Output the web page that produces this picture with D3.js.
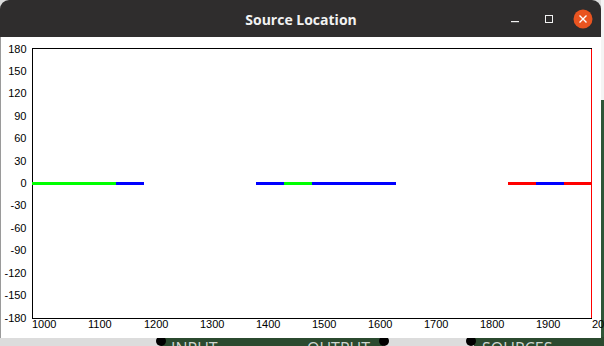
<!DOCTYPE html>
<html>
<head>
<meta charset="utf-8">
<script src="https://cdn.jsdelivr.net/npm/d3@7"></script>
<style>
  html, body { margin: 0; padding: 0; background: #dcdcdc; overflow: hidden; }
  svg { display: block; }
</style>
</head>
<body>
<svg id="chart" width="604" height="346"></svg>
<script>
// axis ticks
const xTicks = [1000, 1100, 1200, 1300, 1400, 1500, 1600, 1700, 1800, 1900, 2000];
const yTicks = [-180, -150, -120, -90, -60, -30, 0, 30, 60, 90, 120, 150, 180];

// source segments (start / end on x, angle on y)
const segStart = [1000, 1150, 1400, 1450, 1500, 1850, 1900, 1950];
const segEnd   = [1150, 1200, 1450, 1500, 1650, 1900, 1950, 2000];
const segAngle = [0, 0, 0, 0, 0, 0, 0, 0];
const segColor = ["#00ff00", "#0000ff", "#0000ff", "#00ff00", "#0000ff", "#ff0000", "#0000ff", "#ff0000"];

// red cursor line
const cursorX = [2000];

const svg = d3.select("#chart");

// --- desktop / window chrome ---
svg.append("rect").attr("x", 0).attr("y", 0).attr("width", 604).attr("height", 346).attr("fill", "#dcdcdc");
svg.append("rect").attr("x", 601).attr("y", 0).attr("width", 3).attr("height", 100).attr("fill", "#f4f4f4");
svg.append("rect").attr("x", 601).attr("y", 100).attr("width", 3).attr("height", 246).attr("fill", "#2f5638");
svg.append("rect").attr("x", 161).attr("y", 337).attr("width", 222).attr("height", 9).attr("fill", "#2b4a2f");
svg.append("rect").attr("x", 474).attr("y", 337).attr("width", 130).attr("height", 9).attr("fill", "#2b4a2f");
svg.append("circle").attr("cx", 161).attr("cy", 341).attr("r", 5).attr("fill", "#000");
svg.append("circle").attr("cx", 384).attr("cy", 341).attr("r", 5).attr("fill", "#000");
svg.append("circle").attr("cx", 471).attr("cy", 341).attr("r", 5).attr("fill", "#000");
[["INPUT", 171], ["OUTPUT", 307], ["SOURCES", 482]].forEach(function(t) {
    svg.append("text").attr("x", t[1]).attr("y", 354).text(t[0])
        .style("font-family", "Open Sans").style("font-size", "16px").attr("fill", "#cfd6cf");
});

// window body
svg.append("rect").attr("x", 0).attr("y", 30).attr("width", 601).attr("height", 308).attr("fill", "#ffffff");
svg.append("rect").attr("x", 0).attr("y", 30).attr("width", 1).attr("height", 308).attr("fill", "#9a9a9a");
// title bar
svg.append("path")
    .attr("d", "M0,37V9A9,9 0 0 1 9,0H592A9,9 0 0 1 601,9V37Z")
    .attr("fill", "#2f2d2d");
svg.append("text").attr("x", 301).attr("y", 25).attr("text-anchor", "middle")
    .text("Source Location")
    .style("font-family", "Open Sans").style("font-weight", "700").style("font-size", "14px")
    .attr("fill", "#f2f2f2");
svg.append("rect").attr("x", 511).attr("y", 21).attr("width", 8).attr("height", 1.2).attr("fill", "#f2f2f2");
svg.append("rect").attr("x", 545.5).attr("y", 15.5).attr("width", 7).attr("height", 7)
    .attr("fill", "none").attr("stroke", "#f2f2f2").attr("stroke-width", 1);
svg.append("circle").attr("cx", 583).attr("cy", 19).attr("r", 9.5).attr("fill", "#e95420");
svg.append("path").attr("d", "M579.5,15.5L586.5,22.5M586.5,15.5L579.5,22.5")
    .attr("stroke", "#fff").attr("stroke-width", 1.4);

// --- plot ---
const xScale = d3.scaleLinear().domain([1000, 2000]).range([31.5, 591.5]);
const yScale = d3.scaleLinear().domain([-180, 180]).range([317.5, 48.5]);

const plot = svg.append("g");

// top border
plot.append("line")
    .attr("x1", xScale(1000)).attr("x2", xScale(2000))
    .attr("y1", yScale(180)).attr("y2", yScale(180))
    .attr("stroke", "#000").attr("shape-rendering", "crispEdges");

const yAxis = plot.append("g")
    .attr("transform", "translate(" + xScale(1000) + ",0)")
    .call(d3.axisLeft(yScale).tickValues(yTicks).tickSize(0).tickSizeOuter(0).tickPadding(5).tickFormat(d => d));
yAxis.select(".domain").attr("stroke", "#000").attr("shape-rendering", "crispEdges");
yAxis.selectAll("text")
    .style("font-family", "Liberation Sans").style("font-size", "11px").attr("fill", "#000");

const xAxis = plot.append("g")
    .attr("transform", "translate(0," + yScale(-180) + ")")
    .call(d3.axisBottom(xScale).tickValues(xTicks).tickSize(0).tickSizeOuter(0).tickPadding(3).tickFormat(d => d));
xAxis.select(".domain").attr("stroke", "#000").attr("shape-rendering", "crispEdges");
xAxis.selectAll("text")
    .attr("text-anchor", "start")
    .style("font-family", "Liberation Sans").style("font-size", "11px").attr("fill", "#000");

// segments
plot.selectAll(".seg")
    .data(segStart.map((s, i) => ({ s: s, e: segEnd[i], a: segAngle[i], c: segColor[i] })))
    .enter().append("line")
    .attr("class", "seg")
    .attr("x1", d => xScale(d.s))
    .attr("x2", d => xScale(d.e))
    .attr("y1", d => yScale(d.a))
    .attr("y2", d => yScale(d.a))
    .attr("stroke", d => d.c)
    .attr("stroke-width", 3)
    .attr("shape-rendering", "crispEdges");

// cursor
plot.selectAll(".cursor")
    .data(cursorX)
    .enter().append("line")
    .attr("class", "cursor")
    .attr("x1", d => xScale(d)).attr("x2", d => xScale(d))
    .attr("y1", yScale(180)).attr("y2", yScale(-180))
    .attr("stroke", "#ff0000")
    .attr("shape-rendering", "crispEdges");
</script>
</body>
</html>
